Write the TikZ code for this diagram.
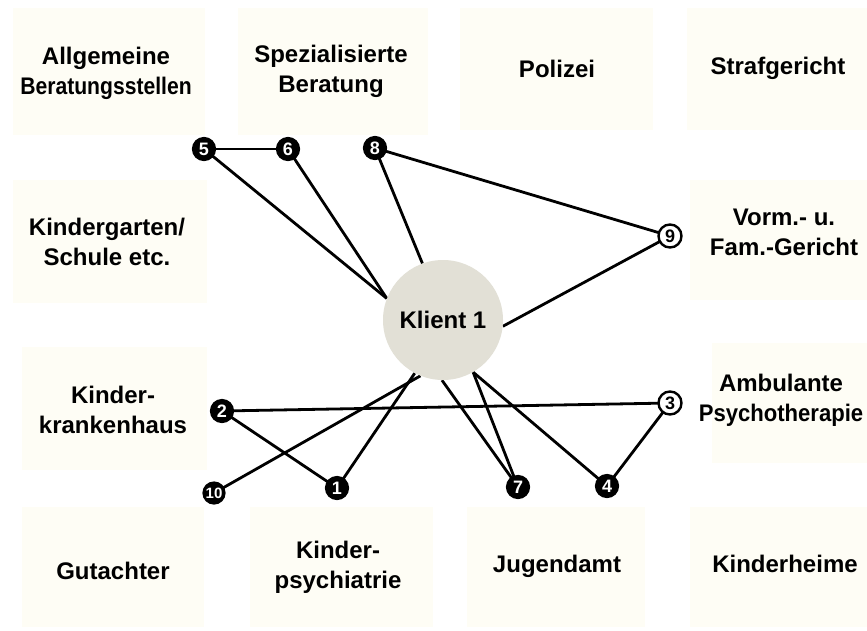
\documentclass[tikz,border=0pt]{standalone}
\usepackage{fontspec}
\usepackage{graphicx}
\setmainfont{Liberation Sans}
\definecolor{boxfill}{RGB}{254,253,245}
\definecolor{klientfill}{RGB}{226,224,214}
\pgfdeclarelayer{bg}
\pgfdeclarelayer{lines}
\pgfsetlayers{bg,lines,main}
\begin{document}
\begin{tikzpicture}[x=1pt,y=-1pt,
  box/.style={draw=none,fill=boxfill,rectangle,inner sep=0pt},
  lbl/.style={align=center,font=\fontsize{24}{30}\selectfont\bfseries,inner sep=0pt},
  numblack/.style={circle,fill=black,draw=black,line width=1.2pt,text=white,minimum size=23pt,inner sep=0pt,font=\fontsize{18}{18}\selectfont\bfseries},
  numwhite/.style={circle,fill=white,draw=black,line width=2.4pt,text=black,minimum size=23pt,inner sep=0pt,font=\fontsize{18}{18}\selectfont\bfseries},
  conn/.style={line width=2.8pt,black}]
\useasboundingbox (0,0) rectangle (867,630);
\begin{pgfonlayer}{bg}
\fill[white] (0,0) rectangle (867,630);
% boxes
\node[box,minimum width=192pt,minimum height=127pt] (bA) at (109,71.5) {};
\node[box,minimum width=190pt,minimum height=127pt] (bB) at (333,71.5) {};
\node[box,minimum width=193pt,minimum height=122pt] (bC) at (556.5,69) {};
\node[box,minimum width=180pt,minimum height=122pt] (bD) at (777,69) {};
\node[box,minimum width=194pt,minimum height=123pt] (bE) at (110,241.5) {};
\node[box,minimum width=177pt,minimum height=120pt] (bF) at (778.5,240) {};
\node[box,minimum width=185pt,minimum height=123pt] (bG) at (114.5,408.5) {};
\node[box,minimum width=155pt,minimum height=120pt] (bH) at (789.5,403) {};
\node[box,minimum width=182pt,minimum height=120pt] (bI) at (113,567) {};
\node[box,minimum width=183pt,minimum height=120pt] (bJ) at (341.5,567) {};
\node[box,minimum width=178pt,minimum height=120pt] (bK) at (556,567) {};
\node[box,minimum width=177pt,minimum height=120pt] (bL) at (778.5,567) {};
\end{pgfonlayer}
% labels
\node[lbl] (tA) at (106,73) {Allgemeine\\\scalebox{0.88}[1]{Beratungsstellen}};
\node[lbl] (tB) at (331,71) {Spezialisierte\\Beratung};
\node[lbl] (tC) at (557,69) {Polizei};
\node[lbl] (tD) at (778,68) {Strafgericht};
\node[lbl] (tE) at (107,242) {Kindergarten/\\Schule etc.};
\node[lbl] (tF) at (784,232) {Vorm.- u.\\Fam.-Gericht};
\node[lbl] (tG) at (113,410) {Kinder-\\krankenhaus};
\node[lbl] (tH) at (781,400) {Ambulante\\\scalebox{0.92}[1]{Psychotherapie}};
\node[lbl] (tI) at (113,571) {Gutachter};
\node[lbl] (tJ) at (338,567) {Kinder-\\psychiatrie};
\node[lbl] (tK) at (557,566) {Jugendamt};
\node[lbl] (tL) at (785,564) {Kinderheime};
% client
\node[circle,fill=klientfill,minimum size=120pt,inner sep=0pt,font=\fontsize{24}{30}\selectfont\bfseries] (k) at (443,320) {Klient 1};
% markers
\node[numblack] (n5) at (204,149) {5};
\node[numblack] (n6) at (288,149) {6};
\node[numblack] (n8) at (375,148) {8};
\node[numwhite] (n9) at (670,236) {9};
\node[numblack] (n2) at (222,411) {2};
\node[numwhite] (n3) at (670,403) {3};
\node[numblack,minimum size=22pt,font=\fontsize{15}{15}\selectfont\bfseries] (n10) at (214,493) {10};
\node[numblack] (n1) at (337,488) {1};
\node[numblack] (n7) at (518,487) {7};
\node[numblack] (n4) at (607,486) {4};
% connectors
\begin{pgfonlayer}{lines}
\draw[conn] (n5.center) -- (n6.center);
\draw[conn] (n5.center) -- (k.159);
\draw[conn] (n6.center) -- (k.159);
\draw[conn] (n8.center) -- (k.110);
\draw[conn] (n8.center) -- (n9.center);
\draw[conn] (n9.center) -- (k.-6);
\draw[conn] (n2.center) -- (n3.center);
\draw[conn] (n2.center) -- (n1.center);
\draw[conn] (n10.center) -- (k.248);
\draw[conn] (n1.center) -- (k.242);
\draw[conn] (k.269) -- (n7.center);
\draw[conn] (k.300) -- (n7.center);
\draw[conn] (k.300) -- (n4.center);
\draw[conn] (n4.center) -- (n3.center);
\end{pgfonlayer}
\end{tikzpicture}
\end{document}
